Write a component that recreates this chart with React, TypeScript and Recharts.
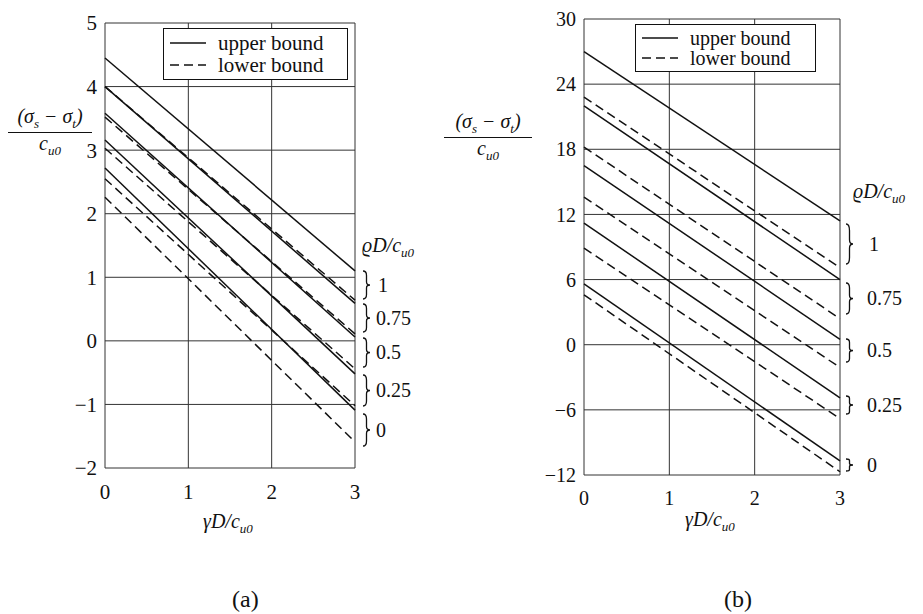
import React from "react";
import { LineChart, Line, XAxis, YAxis, CartesianGrid } from "recharts";

const serif = "'Liberation Serif', 'Times New Roman', Times, 'DejaVu Serif', 'Noto Serif', serif";

const gammaD = [0, 3];
const xTicks = [0, 1, 2, 3];
const rhoLabels = ["1", "0.75", "0.5", "0.25", "0"];

// (a): values at γD/cu0 = 0 and 3, one entry per ρD/cu0
const upperAStart = [4.45, 4.0, 3.58, 3.16, 2.72];
const upperAEnd = [1.1, 0.59, 0.06, -0.52, -1.09];
const lowerAStart = [4.0, 3.52, 3.03, 2.55, 2.26];
const lowerAEnd = [0.64, 0.11, -0.44, -1.02, -1.59];
const yTicksA = [-2, -1, 0, 1, 2, 3, 4, 5];

// (b)
const upperBStart = [27.0, 22.0, 16.5, 11.2, 5.6];
const upperBEnd = [11.4, 6.0, 0.5, -4.9, -10.7];
const lowerBStart = [22.8, 18.2, 13.6, 8.9, 4.6];
const lowerBEnd = [7.1, 2.4, -2.1, -6.8, -11.7];
const yTicksB = [-12, -6, 0, 6, 12, 18, 24, 30];

function buildRows(us: number[], ue: number[], ls: number[], le: number[]) {
  return gammaD.map((x, i) => {
    const row: Record<string, number> = { x };
    rhoLabels.forEach((_, k) => {
      row[`u${k}`] = i === 0 ? us[k] : ue[k];
      row[`l${k}`] = i === 0 ? ls[k] : le[k];
    });
    return row;
  });
}

const rowsA = buildRows(upperAStart, upperAEnd, lowerAStart, lowerAEnd);
const rowsB = buildRows(upperBStart, upperBEnd, lowerBStart, lowerBEnd);

const fmt = (v: number) => (v < 0 ? "\u2212" + Math.abs(v) : String(v));

function Panel({ rows, yTicks, width, height, margin, fontSize }: any) {
  return (
    <LineChart width={width} height={height} data={rows} margin={margin} style={{ fontFamily: serif }}>
      <CartesianGrid stroke="#333" strokeWidth={1} />
      <XAxis
        type="number"
        dataKey="x"
        domain={[0, 3]}
        ticks={xTicks}
        axisLine={false}
        tickLine={false}
        tickMargin={10}
        height={30}
        tick={{ fontSize, fill: "#111", fontFamily: serif }}
      />
      <YAxis
        type="number"
        domain={[yTicks[0], yTicks[yTicks.length - 1]]}
        ticks={yTicks}
        axisLine={false}
        tickLine={false}
        width={40}
        tickFormatter={fmt}
        tick={{ fontSize, fill: "#111", fontFamily: serif }}
      />
      {rhoLabels.map((_, k) => (
        <Line
          key={`u${k}`}
          type="linear"
          dataKey={`u${k}`}
          stroke="#111"
          strokeWidth={1.5}
          dot={false}
          isAnimationActive={false}
        />
      ))}
      {rhoLabels.map((_, k) => (
        <Line
          key={`l${k}`}
          type="linear"
          dataKey={`l${k}`}
          stroke="#111"
          strokeWidth={1.5}
          strokeDasharray="9 5"
          dot={false}
          isAnimationActive={false}
        />
      ))}
    </LineChart>
  );
}

function Txt({ x, y, size = 20, italic = false, children }: any) {
  return (
    <div
      style={{
        position: "absolute",
        left: x,
        top: y - size / 2,
        fontSize: size,
        lineHeight: 1,
        fontStyle: italic ? "italic" : "normal",
        whiteSpace: "nowrap",
        color: "#111",
      }}
    >
      {children}
    </div>
  );
}

// curly brace drawn as a path, label to its right
function Brace({ x, cy, h, label, lx }: any) {
  const w = 7;
  const m = w / 2;
  const d = `M0,1 Q${m},1 ${m},${h * 0.18} L${m},${h * 0.4} Q${m},${h / 2} ${w},${h / 2} Q${m},${h / 2} ${m},${h * 0.6} L${m},${h * 0.82} Q${m},${h - 1} 0,${h - 1}`;
  return (
    <>
      <svg width={w + 2} height={h} style={{ position: "absolute", left: x, top: cy - h / 2 }}>
        <path d={d} fill="none" stroke="#111" strokeWidth={1.3} />
      </svg>
      <Txt x={lx} y={cy} size={20}>
        {label}
      </Txt>
    </>
  );
}

function Fraction({ x, y, w, size }: any) {
  return (
    <div
      style={{
        position: "absolute",
        left: x,
        top: y,
        width: w,
        textAlign: "center",
        fontSize: size,
        fontStyle: "italic",
        lineHeight: 1.05,
        color: "#111",
      }}
    >
      <div style={{ borderBottom: "1.5px solid #111", paddingBottom: 1 }}>
        (σ<sub style={{ fontSize: size * 0.65 }}>s</sub> − σ
        <sub style={{ fontSize: size * 0.65 }}>t</sub>)
      </div>
      <div>
        c<sub style={{ fontSize: size * 0.65 }}>u0</sub>
      </div>
    </div>
  );
}

const CuSub = () => <sub style={{ fontSize: "0.65em" }}>u0</sub>;

function LegendBox({ x, y, w, h, size }: any) {
  const rowH = (h - 8) / 2;
  return (
    <div
      style={{
        position: "absolute",
        left: x,
        top: y,
        width: w,
        height: h,
        border: "1.5px solid #111",
        background: "#fff",
        boxSizing: "border-box",
        fontSize: size,
        lineHeight: 1,
        color: "#111",
      }}
    >
      {[
        { name: "upper bound", dash: undefined },
        { name: "lower bound", dash: "9 5" },
      ].map((it, i) => (
        <div
          key={it.name}
          style={{
            position: "absolute",
            left: 6,
            top: 3 + i * rowH,
            height: rowH,
            display: "flex",
            alignItems: "center",
          }}
        >
          <svg width={36} height={6} style={{ marginRight: 12 }}>
            <line x1={0} y1={3} x2={36} y2={3} stroke="#111" strokeWidth={1.5} strokeDasharray={it.dash} />
          </svg>
          <span>{it.name}</span>
        </div>
      ))}
    </div>
  );
}

export default function App() {
  return (
    <div
      style={{
        position: "absolute",
        left: 0,
        top: 0,
        width: 923,
        height: 614,
        background: "#fff",
        fontFamily: serif,
        overflow: "hidden",
      }}
    >
      <div style={{ position: "absolute", left: 0, top: 0 }}>
        <Panel
          rows={rowsA}
          yTicks={yTicksA}
          width={420}
          height={530}
          margin={{ top: 23, left: 65, right: 65, bottom: 32 }}
          fontSize={21}
        />
      </div>
      <div style={{ position: "absolute", left: 470, top: 0 }}>
        <Panel
          rows={rowsB}
          yTicks={yTicksB}
          width={420}
          height={535}
          margin={{ top: 19, left: 74, right: 50, bottom: 30 }}
          fontSize={20}
        />
      </div>

      <LegendBox x={163} y={28} w={185} h={52} size={21} />
      <LegendBox x={635} y={24} w={181} h={48} size={20} />

      <Fraction x={8} y={106} w={84} size={20} />
      <Fraction x={444} y={111} w={88} size={20} />

      <Txt x={362} y={245} size={20} italic>
        ϱD/c<CuSub />
      </Txt>
      <Txt x={853} y={191} size={20} italic>
        ϱD/c<CuSub />
      </Txt>

      <Brace x={363} cy={285} h={30} label="1" lx={378} />
      <Brace x={363} cy={318} h={30} label="0.75" lx={376} />
      <Brace x={363} cy={352} h={31} label="0.5" lx={376} />
      <Brace x={363} cy={390} h={33} label="0.25" lx={376} />
      <Brace x={363} cy={430} h={34} label="0" lx={376} />

      <Brace x={846} cy={244} h={42} label="1" lx={869} />
      <Brace x={846} cy={298} h={33} label="0.75" lx={867} />
      <Brace x={846} cy={350} h={25} label="0.5" lx={867} />
      <Brace x={846} cy={405} h={20} label="0.25" lx={867} />
      <Brace x={846} cy={465} h={14} label="0" lx={867} />

      <Txt x={203} y={521} size={20} italic>
        γD/c<CuSub />
      </Txt>
      <Txt x={685} y={519} size={20} italic>
        γD/c<CuSub />
      </Txt>

      <Txt x={232} y={599} size={24}>
        (a)
      </Txt>
      <Txt x={724} y={599} size={24}>
        (b)
      </Txt>
    </div>
  );
}
